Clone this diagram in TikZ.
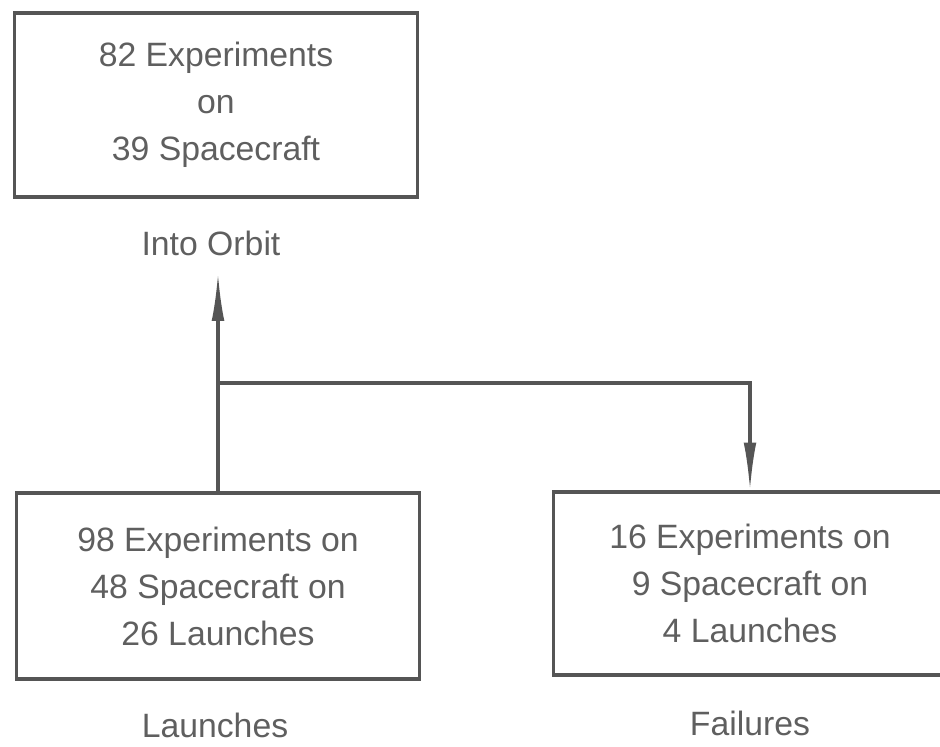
\documentclass[tikz,border=0pt]{standalone}
\usepackage{fontspec}
\setmainfont{Liberation Sans}
\usetikzlibrary{arrows.meta,positioning}
\definecolor{inkgray}{RGB}{85,85,85}
\definecolor{txtgray}{RGB}{95,95,95}

\begin{document}
\begin{tikzpicture}[x=0.0125cm, y=-0.0125cm,
  stage/.style={draw=inkgray, line width=1.1pt, rectangle, align=center, text=txtgray,
    font=\fontsize{12}{16.7}\selectfont},
  lbl/.style={text=txtgray, font=\fontsize{12}{16.7}\selectfont},
  flow/.style={draw=inkgray, line width=1.1pt, -{Latex[length=17pt,width=4.5pt]}}]
  \useasboundingbox (0,0) rectangle (940,746);

  % Into Orbit
  \node[stage, minimum width=5.025cm, minimum height=2.3cm] (orbit) at (216,105) {82 Experiments\\on\\39 Spacecraft};
  \node[lbl] (orbitlbl) at (211,243) {Into Orbit};

  % Launches
  \node[stage, minimum width=5.025cm, minimum height=2.325cm] (launch) at (218,586) {98 Experiments on\\48 Spacecraft on\\26 Launches};
  \node[lbl] (launchlbl) at (215,725) {Launches};

  % Failures (box runs off the right edge)
  \node[stage, anchor=west, minimum width=5.5cm, minimum height=2.2875cm] (fail) at (552,583.5) {};
  \node[lbl, align=center] (failtxt) at (750,583.5) {16 Experiments on\\9 Spacecraft on\\4 Launches};
  \node[lbl] (faillbl) at (750,723) {Failures};

  % Connectors
  \coordinate (uptip) at (218,273);
  \coordinate (split) at (218,383);
  \draw[flow] (launch.north) -- (uptip);
  \draw[flow] (split) -| (failtxt |- fail.north);
\end{tikzpicture}
\end{document}
